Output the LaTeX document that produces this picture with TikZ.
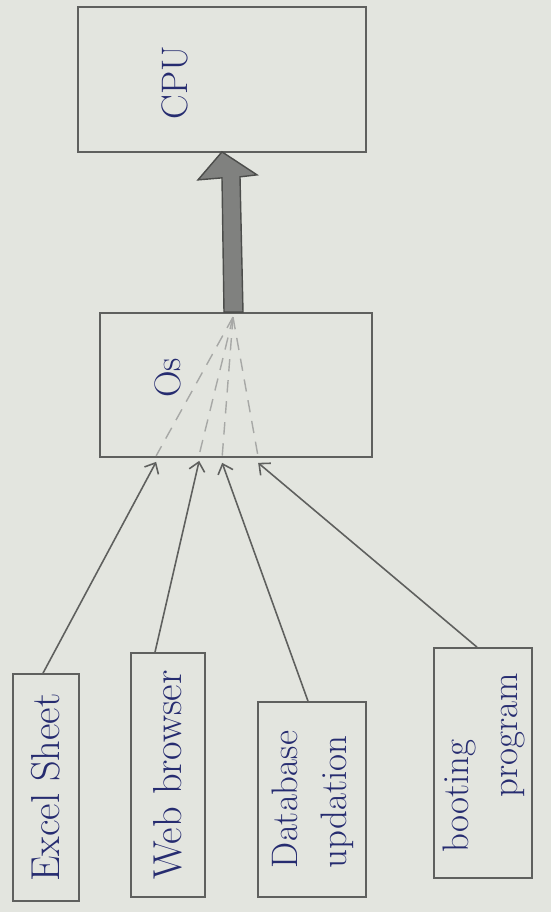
\documentclass[tikz,border=0pt]{standalone}
\usepackage{graphicx}
\usetikzlibrary{arrows.meta,calc}
\definecolor{paper}{RGB}{227,229,223}
\definecolor{pencil}{RGB}{95,96,94}
\definecolor{ink}{RGB}{38,44,112}
\definecolor{shaft}{RGB}{128,129,127}
\begin{document}
\begin{tikzpicture}[x=0.02cm,y=-0.02cm,
  box/.style={draw=pencil, line width=1pt, inner sep=0pt},
  title/.style={text=ink, inner sep=0pt, font=\fontsize{21}{26}\selectfont},
  lbl/.style={text=ink, inner sep=0pt, font=\fontsize{23}{28}\selectfont},
  lbltwo/.style={text=ink, inner sep=0pt, font=\fontsize{21}{28}\selectfont},
  feed/.style={draw=pencil, line width=0.9pt, -{Straight Barb[length=5pt,width=9pt]}},
  fan/.style={draw=pencil!55, line width=0.8pt, dash pattern=on 7pt off 5pt},
  fat/.style={draw=pencil!80!black, fill=shaft, line width=0.8pt, line join=miter}]
\fill[paper] (0,0) rectangle (551,912);
\useasboundingbox (0,0) rectangle (551,912);

% processor and operating system
\node[box, minimum width=5.76cm, minimum height=2.9cm] (cpu) at (222,79.5) {};
\node[title, rotate=90] (cputxt) at ($(cpu.center)+(-47,3)$) {CPU};
\node[box, minimum width=5.44cm, minimum height=2.88cm] (os) at (236,385) {};
\node[title, rotate=90] (ostxt) at ($(os.center)+(-68,-7)$) {Os};

% applications
\node[box, minimum width=1.32cm, minimum height=4.54cm, lbl] (excel) at (46,787.5)
  {\rotatebox{90}{Excel Sheet}};
\node[box, minimum width=1.48cm, minimum height=4.88cm, lbl] (web) at (168,775)
  {\rotatebox{90}{Web browser}};
\node[box, minimum width=2.16cm, minimum height=3.9cm, lbltwo] (db) at (312,799.5)
  {\rotatebox{90}{\begin{tabular}{@{}l@{}}Database\\updation\end{tabular}}};
\node[box, minimum width=1.96cm, minimum height=4.6cm, lbltwo] (boot) at (483,763)
  {\rotatebox{90}{\begin{tabular}{@{}l@{}}booting\\\hspace*{1.1cm}program\end{tabular}}};

% entry points on the bottom edge of the OS box
\coordinate (in1) at ($(os.south west)+(57,4)$);
\coordinate (in2) at ($(os.south west)+(100,3)$);
\coordinate (in3) at ($(os.south west)+(123,5)$);
\coordinate (in4) at ($(os.south west)+(159,5)$);
\coordinate (hub) at ($(os.north)+(-3,5)$);

% requests fanning through the OS
\foreach \k in {1,2,3,4}
  \draw[fan] (hub) -- ($(in\k)+(0,-6)$);

\draw[feed] ($(excel.north)+(-3,0)$) -- (in1);
\draw[feed] ($(web.north)+(-13,0)$) -- (in2);
\draw[feed] ($(db.north)+(-4,0)$) -- (in3);
\draw[feed] ($(boot.north)+(-6,0)$) -- (in4);

% thick arrow from the OS up to the CPU
\coordinate (tail) at ($(os.north)+(-3,0)$);
\coordinate (tip) at ($(cpu.south)+(0,-1)$);
\filldraw[fat] ($(tail)+(-9,0)$) -- ($(tip)+(0,26)$) -- ($(tip)+(-24,28)$) -- (tip)
  -- ($(tip)+(35,23)$) -- ($(tip)+(18,25)$) -- ($(tail)+(10,0)$) -- cycle;
\end{tikzpicture}
\end{document}
